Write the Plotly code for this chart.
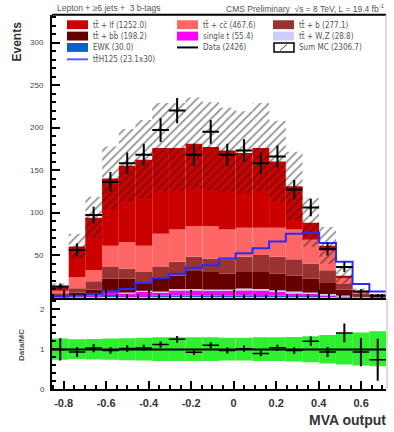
import numpy as np
import plotly.graph_objects as go

# ---------------- data ----------------
mva_bins = [-0.816, -0.737, -0.659, -0.580, -0.501, -0.423, -0.344, -0.266, -0.187, -0.108,
            -0.030, 0.049, 0.128, 0.206, 0.285, 0.363, 0.442, 0.521, 0.599, 0.678]
bin_width = 0.0786

# stacked backgrounds, listed bottom -> top
ewk      = [0.5, 0.5, 1.0, 3.0, 1.0, 1.0, 2.0, 2.5, 2.5, 2.0, 2.0, 2.0, 1.5, 2.0, 1.5, 1.5, 1.0, 0.5, 0.2, 0.1]
single_t = [0.5, 1.0, 1.0, 4.0, 4.0, 6.0, 4.0, 6.0, 6.0, 6.0, 6.0, 7.0, 7.0, 5.0, 4.0, 3.0, 2.0, 1.0, 0.5, 0.2]
tt_wz    = [0.2, 0.3, 0.5, 1.0, 1.0, 1.0, 1.0, 1.5, 1.5, 1.5, 1.5, 1.5, 1.5, 1.5, 1.5, 1.5, 1.0, 1.0, 0.5, 0.3]
tt_bb    = [1.8, 4.2, 7.0, 14.0, 16.0, 10.0, 17.0, 16.0, 22.0, 20.5, 18.5, 19.5, 20.0, 19.5, 19.0, 16.0, 14.0, 6.5, 1.8, 0.7]
tt_b     = [2.0, 5.0, 9.5, 14.0, 12.0, 12.0, 12.0, 16.0, 16.0, 16.0, 17.0, 18.0, 20.0, 20.0, 19.0, 18.0, 14.0, 7.0, 2.0, 0.7]
tt_cc    = [3.0, 13.0, 13.0, 25.0, 31.0, 31.0, 39.0, 38.0, 36.0, 38.0, 35.0, 34.0, 32.0, 34.0, 35.0, 28.0, 23.0, 7.0, 2.0, 0.5]
tt_lf    = [5.0, 36.0, 62.0, 79.0, 90.0, 101.0, 101.0, 96.0, 97.0, 93.0, 93.0, 88.0, 94.0, 78.0, 51.0, 20.0, 6.0, 2.5, 0.5, 0.2]

data_obs = [13, 56, 97, 136, 158, 168, 197, 220, 168, 195, 168, 173, 158, 166, 127, 106, 57, 36, 7, 2]
tth_x30  = [1, 2, 4, 7, 10, 17, 23, 28, 35, 38, 46, 52, 58, 66, 75, 76, 64, 42, 16, 7]

# relative systematic uncertainty of the MC sum (up / down)
unc_up   = [0.27, 0.25, 0.26, 0.27, 0.28, 0.29, 0.30, 0.30, 0.30, 0.30, 0.29, 0.29, 0.30, 0.30, 0.31, 0.33, 0.36, 0.40, 0.42, 0.45]
unc_down = [0.26, 0.24, 0.25, 0.26, 0.27, 0.28, 0.29, 0.29, 0.29, 0.29, 0.28, 0.28, 0.29, 0.29, 0.30, 0.32, 0.35, 0.38, 0.40, 0.42]

x_tick_vals = [-0.8, -0.6, -0.4, -0.2, 0.0, 0.2, 0.4, 0.6]
x_tick_text = ["-0.8", "-0.6", "-0.4", "-0.2", "0", "0.2", "0.4", "0.6"]
y_tick_vals = [50, 100, 150, 200, 250, 300]
r_tick_vals = [0, 1, 2]

components = [
    ("EWK (30.0)", ewk, "#0a62cc"),
    ("single t (55.4)", single_t, "#ff00ff"),
    ("tt̄ + W,Z (28.8)", tt_wz, "#ccccff"),
    ("tt̄ + bb̄ (198.2)", tt_bb, "#660000"),
    ("tt̄ + b (277.1)", tt_b, "#993333"),
    ("tt̄ + cc̄ (467.6)", tt_cc, "#ff6666"),
    ("tt̄ + lf (1252.0)", tt_lf, "#cc0000"),
]

# ---------------- figure ----------------
W, H = 394, 432
def px(x):
    return x / W
def py(y):
    return 1 - y / H

XR = [-0.855, 0.717]
centers = np.array(mva_bins)
half = np.full(len(centers), bin_width / 2)

fig = go.Figure()

base = np.zeros(len(centers))
for name, vals, col in components:
    v = np.array(vals, dtype=float)
    fig.add_trace(go.Bar(x=centers, y=v, base=base.copy(), width=bin_width,
                         marker=dict(color=col, line=dict(width=0)),
                         xaxis="x", yaxis="y", name=name, showlegend=False))
    base = base + v
mc_total = base

up = np.array(unc_up)
dn = np.array(unc_down)
# hatched uncertainty band of the MC sum
fig.add_trace(go.Bar(x=centers, y=mc_total * (up + dn), base=mc_total * (1 - dn), width=bin_width,
                     marker=dict(color="rgba(0,0,0,0)", line=dict(width=0),
                                 pattern=dict(shape="/", fgcolor="#222222", bgcolor="rgba(0,0,0,0)",
                                              size=6, solidity=0.3)),
                     xaxis="x", yaxis="y", showlegend=False))

# ttH step line
edges = np.append(centers - bin_width / 2, centers[-1] + bin_width / 2)
tth = np.array(tth_x30, dtype=float)
fig.add_trace(go.Scatter(x=edges, y=np.append(tth, tth[-1]), mode="lines", line_shape="hv",
                         line=dict(color="#2a2aff", width=2), xaxis="x", yaxis="y", showlegend=False))

# data
d = np.array(data_obs, dtype=float)
fig.add_trace(go.Scatter(x=centers, y=d, mode="markers",
                         marker=dict(color="black", size=3),
                         error_y=dict(type="data", array=np.sqrt(d), color="black", thickness=2, width=0),
                         error_x=dict(type="data", array=half, color="black", thickness=2, width=0),
                         xaxis="x", yaxis="y", showlegend=False))

# ratio panel
fig.add_trace(go.Bar(x=centers, y=up + dn, base=1 - dn, width=bin_width,
                     marker=dict(color="#2ef02e", line=dict(width=0)),
                     xaxis="x2", yaxis="y2", showlegend=False))
ratio = d / mc_total
fig.add_trace(go.Scatter(x=centers, y=ratio, mode="markers",
                         marker=dict(color="black", size=2),
                         error_y=dict(type="data", array=np.sqrt(d) / mc_total, color="black", thickness=2, width=0),
                         error_x=dict(type="data", array=half, color="black", thickness=1.5, width=0),
                         xaxis="x2", yaxis="y2", showlegend=False))

font_fam = "Liberation Sans, Arial, sans-serif"
leg_fam = "DejaVu Sans Condensed, DejaVu Sans, sans-serif"
common_x = dict(range=XR, showgrid=False, zeroline=False, showline=True, linecolor="black", linewidth=2,
                ticks="inside", ticklen=8, tickwidth=1.5, tickcolor="black",
                tickmode="array", tickvals=x_tick_vals, ticktext=x_tick_text,
                minor=dict(ticks="inside", ticklen=4, tickcolor="black", dtick=0.05, tick0=0, showgrid=False))

fig.update_layout(
    width=W, height=H, margin=dict(l=0, r=0, t=0, b=0),
    paper_bgcolor="white", plot_bgcolor="white",
    barmode="overlay", showlegend=False,
    font=dict(family=font_fam),
    xaxis=dict(domain=[px(52), px(386)], anchor="y", showticklabels=False, **common_x),
    yaxis=dict(domain=[py(301), py(15)], range=[0, 332.6], anchor="x",
               showgrid=False, zeroline=False, showline=True, linecolor="black", linewidth=2,
               ticks="inside", ticklen=8, tickwidth=1.5, tickcolor="black",
               tickmode="array", tickvals=y_tick_vals, ticklabelstandoff=5,
               tickfont=dict(size=8, color="#444"),
               minor=dict(ticks="inside", ticklen=4, tickcolor="black", dtick=10, tick0=0, showgrid=False)),
    xaxis2=dict(domain=[px(52), px(386)], anchor="y2", showticklabels=True, ticklabelstandoff=2,
                tickfont=dict(size=11, color="#333", weight="bold"), **common_x),
    yaxis2=dict(domain=[py(394), py(302)], range=[0, 2.27], anchor="x2",
                showgrid=False, zeroline=False, showline=True, linecolor="black", linewidth=2,
                ticks="inside", ticklen=8, tickwidth=1.5, tickcolor="black",
                tickmode="array", tickvals=r_tick_vals, ticklabelstandoff=4,
                tickfont=dict(size=8, color="#444"),
                minor=dict(ticks="inside", ticklen=4, tickcolor="black", dtick=0.2, tick0=0, showgrid=False)),
)

shapes = []
annots = []
# frame pieces
shapes.append(dict(type="line", xref="paper", yref="paper", x0=px(52), x1=px(386), y0=py(15), y1=py(15),
                   line=dict(color="black", width=2)))
shapes.append(dict(type="line", xref="paper", yref="paper", x0=px(386), x1=px(386), y0=py(301), y1=py(15),
                   line=dict(color="#b8b8b8", width=1)))
shapes.append(dict(type="line", xref="paper", yref="paper", x0=px(387), x1=px(387), y0=py(394), y1=py(302),
                   line=dict(color="#b8b8b8", width=1)))
# ratio reference line
shapes.append(dict(type="line", xref="x2", yref="y2", x0=XR[0], x1=XR[1], y0=1, y1=1,
                   line=dict(color="black", width=2)))

# legend (manual, 3 columns)
col_sw = [67, 177, 273]
row_y = [25, 36.5, 48, 60]
leg_font = dict(size=8, color="#555", family=leg_fam)
legend_boxes = [
    (0, 0, "tt̄ + lf (1252.0)", "#cc0000"),
    (1, 0, "tt̄ + cc̄ (467.6)", "#ff6666"),
    (2, 0, "tt̄ + b (277.1)", "#993333"),
    (0, 1, "tt̄ + bb̄ (198.2)", "#660000"),
    (1, 1, "single t (55.4)", "#ff00ff"),
    (2, 1, "tt̄ + W,Z (28.8)", "#ccccff"),
    (0, 2, "EWK (30.0)", "#0a62cc"),
]
for c, r, txt, col in legend_boxes:
    x0 = col_sw[c]
    yc = row_y[r]
    shapes.append(dict(type="rect", xref="paper", yref="paper", x0=px(x0), x1=px(x0 + 21),
                       y0=py(yc + 4.5), y1=py(yc - 4.5), fillcolor=col, line=dict(width=0)))
    annots.append(dict(x=px(x0 + 24), y=py(yc), xref="paper", yref="paper", text=txt, showarrow=False,
                       xanchor="left", yanchor="middle", font=leg_font))
# Data entry
shapes.append(dict(type="line", xref="paper", yref="paper", x0=px(177), x1=px(198), y0=py(48), y1=py(48),
                   line=dict(color="black", width=2)))
annots.append(dict(x=px(201), y=py(48), xref="paper", yref="paper", text="Data (2426)", showarrow=False,
                   xanchor="left", yanchor="middle", font=leg_font))
# Sum MC entry (hatched box)
shapes.append(dict(type="rect", xref="paper", yref="paper", x0=px(274), x1=px(294), y0=py(52.5), y1=py(43.5),
                   fillcolor="white", line=dict(color="black", width=1.5)))
shapes.append(dict(type="line", xref="paper", yref="paper", x0=px(280), x1=px(287), y0=py(51), y1=py(45),
                   line=dict(color="#444", width=1)))
annots.append(dict(x=px(297), y=py(48), xref="paper", yref="paper", text="Sum MC (2306.7)", showarrow=False,
                   xanchor="left", yanchor="middle", font=leg_font))
# ttH entry
shapes.append(dict(type="line", xref="paper", yref="paper", x0=px(67), x1=px(88), y0=py(60), y1=py(60),
                   line=dict(color="#5c5cff", width=2)))
annots.append(dict(x=px(91), y=py(60), xref="paper", yref="paper", text="tt̄H125 (23.1x30)", showarrow=False,
                   xanchor="left", yanchor="middle", font=leg_font))

# titles
annots.append(dict(x=px(55), y=py(8.5), xref="paper", yref="paper", text="Lepton + ≥6 jets +  3 b-tags",
                   showarrow=False, xanchor="left", yanchor="middle", font=dict(size=8.5, color="#555")))
annots.append(dict(x=px(387), y=py(8.5), xref="paper", yref="paper",
                   text="CMS Preliminary  √s = 8 TeV, L = 19.4 fb<sup>-1</sup>",
                   showarrow=False, xanchor="right", yanchor="middle", font=dict(size=8.5, color="#555")))
annots.append(dict(x=px(17), y=py(42), xref="paper", yref="paper", text="<b>Events</b>", textangle=-90,
                   showarrow=False, xanchor="center", yanchor="middle", font=dict(size=12, color="#333")))
annots.append(dict(x=px(22), y=py(349), xref="paper", yref="paper", text="<b>Data/MC</b>", textangle=-90,
                   showarrow=False, xanchor="center", yanchor="middle", font=dict(size=8, color="#555")))
annots.append(dict(x=px(388), y=py(424.5), xref="paper", yref="paper", text="<b>MVA output</b>",
                   showarrow=False, xanchor="right", yanchor="middle", font=dict(size=14, color="#333")))

fig.update_layout(shapes=shapes, annotations=annots)
fig.write_html("out.html")
